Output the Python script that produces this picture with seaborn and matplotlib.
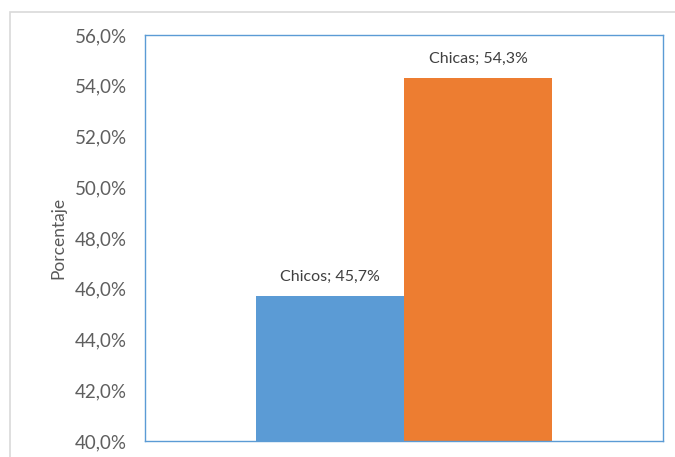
import matplotlib
matplotlib.use("Agg")
import matplotlib.pyplot as plt
from matplotlib.ticker import FuncFormatter, MultipleLocator
from matplotlib.patches import Rectangle
import seaborn as sns
import pandas as pd

series = ["Chicos", "Chicas"]
values = [45.7, 54.3]
colors = ["#5B9BD5", "#ED7D31"]
ylabel = "Porcentaje"

df = pd.DataFrame({"grupo": [""] * len(series), "serie": series, "valor": values})

sns.set_theme(style="white")
plt.rcParams['font.family'] = ['Lato', 'DejaVu Sans']

fig = plt.figure(figsize=(6.75, 4.57), dpi=100)
ax = fig.add_axes([145/675, 16/457, 518/675, 406/457])

sns.barplot(data=df, x="grupo", y="valor", hue="serie", palette=colors,
            width=0.572, saturation=1, legend=False, ax=ax, errorbar=None,
            linewidth=0)

ax.set_xlim(-0.5, 0.5)
ax.set_ylim(40, 56)
ax.yaxis.set_major_locator(MultipleLocator(2))
ax.yaxis.set_major_formatter(FuncFormatter(lambda v, p: f"{v:.1f}%".replace(".", ",")))
ax.tick_params(axis="y", length=0, pad=13, labelsize=13.5, labelcolor="#5f5f5f")
ax.tick_params(axis="x", length=0, labelbottom=False)
ax.set_xlabel("")
ax.set_ylabel(ylabel, fontsize=12.5, color="#595959", labelpad=6)
for s in ax.spines.values():
    s.set_color("#5B9BD5")
    s.set_linewidth(1.0)

for cont, name, v in zip(ax.containers, series, values):
    lbl = f"{name}; {v:.1f}%".replace(".", ",")
    ax.bar_label(cont, labels=[lbl], padding=9, fontsize=11.5, color="#404040")

fig.patches.append(Rectangle((10/675, -0.1), 1.0, (457-12)/457 + 0.1,
                             transform=fig.transFigure, fill=False,
                             edgecolor="#D9D9D9", linewidth=1.2))

fig.savefig("out.png", dpi=100)
